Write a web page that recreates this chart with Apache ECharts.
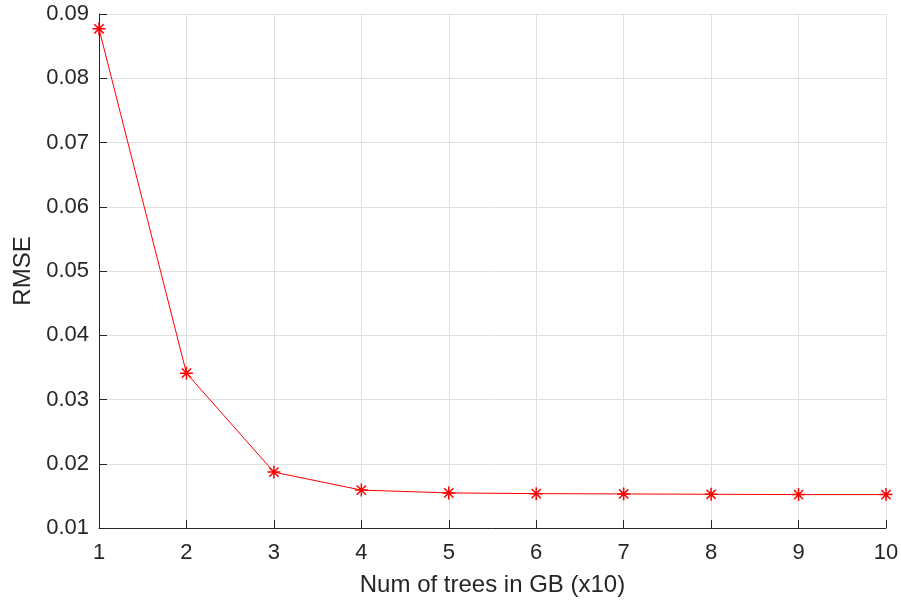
<!DOCTYPE html>
<html><head><meta charset="utf-8">
<script src="https://cdn.jsdelivr.net/npm/echarts@6/dist/echarts.min.js"></script>
<style>html,body{margin:0;padding:0;background:#fff}#c{width:901px;height:602px}</style>
</head><body><div id="c"></div>
<script>
const xValues = [1, 2, 3, 4, 5, 6, 7, 8, 9, 10];
const rmse = [0.0877, 0.0341, 0.0187, 0.0159, 0.01546, 0.01535, 0.0153, 0.01525, 0.0152, 0.0152];
const xTitle = 'Num of trees in GB (x10)';
const yTitle = 'RMSE';

const chart = echarts.init(document.getElementById('c'), null, {renderer: 'canvas'});
const font = 'Liberation Sans, Arial, Helvetica, sans-serif';
const axisColor = '#262626';
chart.setOption({
  animation: false,
  backgroundColor: '#fff',
  grid: {left: 99, right: 15, top: 14, bottom: 74, containLabel: false, outerBoundsMode: 'none'},
  xAxis: {
    type: 'value', min: 1, max: 10, interval: 1,
    name: xTitle, nameLocation: 'middle', nameGap: 45,
    nameTextStyle: {fontFamily: font, fontSize: 24, color: axisColor},
    axisLine: {show: true, onZero: false, lineStyle: {color: axisColor, width: 1}},
    axisTick: {show: true, inside: true, length: 8, lineStyle: {color: axisColor}},
    axisLabel: {fontFamily: font, fontSize: 22, color: axisColor, margin: 14},
    splitLine: {show: true, lineStyle: {color: '#e0e0e0', width: 1}}
  },
  yAxis: {
    type: 'value', min: 0.01, max: 0.09, interval: 0.01,
    name: yTitle, nameLocation: 'middle', nameGap: 64, nameRotate: 90,
    nameTextStyle: {fontFamily: font, fontSize: 24, color: axisColor},
    axisLine: {show: true, onZero: false, lineStyle: {color: axisColor, width: 1}},
    axisTick: {show: true, inside: true, length: 8, lineStyle: {color: axisColor}},
    axisLabel: {fontFamily: font, fontSize: 22, color: axisColor, margin: 10,
      formatter: v => v.toFixed(2)},
    splitLine: {show: true, lineStyle: {color: '#e0e0e0', width: 1}}
  },
  series: [{
    type: 'line',
    data: xValues.map((x, i) => [x, rmse[i]]),
    lineStyle: {color: '#ff0000', width: 1},
    symbol: 'path://M0,-10L0,10M-10,0L10,0M-7.07,-7.07L7.07,7.07M-7.07,7.07L7.07,-7.07',
    symbolSize: 13,
    itemStyle: {color: 'rgba(0,0,0,0)', borderColor: '#ff0000', borderWidth: 1.5},
    showSymbol: true
  }]
});
</script></body></html>
